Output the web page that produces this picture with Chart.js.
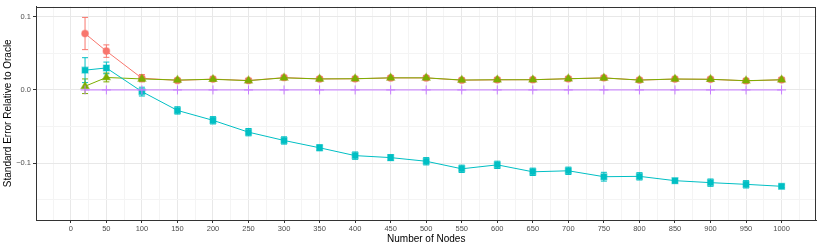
<!DOCTYPE html>
<html><head><meta charset="utf-8">
<script src="https://cdn.jsdelivr.net/npm/chart.js@4.4.1/dist/chart.umd.min.js"></script>
<style>html,body{margin:0;padding:0;background:#fff}canvas{display:block}</style>
</head><body>
<canvas id="c" width="822" height="249"></canvas>
<script>
const nodes = [20,50,100,150,200,250,300,350,400,450,500,550,600,650,700,750,800,850,900,950,1000];

const redVals  = [0.077,0.053,0.016,0.013,0.0148,0.0128,0.0168,0.015,0.0152,0.0164,0.0164,0.0133,0.0138,0.014,0.0152,0.0165,0.0134,0.0148,0.0145,0.0124,0.0138];
const redErr   = [0.022,0.0085,0.005,0.003,0.003,0.003,0.003,0.003,0.003,0.003,0.003,0.003,0.003,0.003,0.003,0.003,0.003,0.003,0.003,0.003,0.003];

const greenVals = [0.005,0.017,0.015,0.0135,0.0145,0.0127,0.0165,0.015,0.0153,0.0165,0.0165,0.0135,0.0139,0.0139,0.0153,0.0163,0.0135,0.0149,0.0145,0.0126,0.0139];
const greenErr  = [0.010,0.006,0.003,0.002,0.002,0.002,0.002,0.002,0.002,0.002,0.002,0.002,0.002,0.002,0.002,0.002,0.002,0.002,0.002,0.002,0.002];

const cyanVals = [0.027,0.030,-0.0023,-0.028,-0.0415,-0.0577,-0.069,-0.079,-0.0897,-0.0924,-0.0974,-0.1077,-0.1023,-0.1118,-0.1104,-0.1185,-0.118,-0.1239,-0.1266,-0.1289,-0.1316];
const cyanErr  = [0.017,0.008,0.006,0.005,0.005,0.005,0.005,0.004,0.005,0.004,0.005,0.005,0.005,0.005,0.005,0.006,0.005,0.003,0.005,0.005,0.002];

const purpleVals = [0,0,0,0,0,0,0,0,0,0,0,0,0,0,0,0,0,0,0,0,0];
const purpleErr  = [0,0,0,0,0,0,0,0,0,0,0,0,0,0,0,0,0,0,0,0,0];

const xTicks = [-25,0,25,50,75,100,125,150,175,200,225,250,275,300,325,350,375,400,425,450,475,500,525,550,575,600,625,650,675,700,725,750,775,800,825,850,875,900,925,950,975,1000,1025];
const xLabelTicks = [0,50,100,150,200,250,300,350,400,450,500,550,600,650,700,750,800,850,900,950,1000];
const yTicks = [-0.15,-0.1,-0.05,0,0.05,0.1];
const yLabelTicks = [-0.1,0,0.1];
const yLabelText = ['\u22120.1','0.0','0.1'];

const xTitle = 'Number of Nodes';
const yTitle = 'Standard Error Relative to Oracle';

function pts(vals){ return nodes.map((n,i)=>({x:n,y:vals[i]})); }

function mkDs(label, vals, errs, color, halo, style, radius){
  return {
    label, data: pts(vals), errs,
    borderColor: color, backgroundColor: color,
    borderWidth: 1, tension: 0,
    pointStyle: style, pointRadius: radius,
    pointBackgroundColor: color,
    pointBorderColor: halo, pointBorderWidth: style==='cross'?1:1.2,
    fill: false
  };
}

const datasets = [
  mkDs('Oracle', purpleVals, purpleErr, '#C77CFF', '#C77CFF', 'cross', 4.5),
  mkDs('C', cyanVals, cyanErr, '#00BFC4', 'rgba(0,191,196,0.5)', 'rect', 4.2),
  mkDs('B', greenVals, greenErr, '#7CAE00', 'rgba(124,174,0,0.6)', 'triangle', 4.4),
  mkDs('A', redVals, redErr, '#F8766D', 'rgba(248,118,109,0.45)', 'circle', 3.4)
];

const errorBars = {
  id: 'errorBars',
  beforeDatasetsDraw(chart){
    const ctx = chart.ctx, ys = chart.scales.y;
    for (let i = chart.data.datasets.length - 1; i >= 0; i--){
      const ds = chart.data.datasets[i];
      const meta = chart.getDatasetMeta(i);
      ctx.save();
      ctx.strokeStyle = ds.borderColor;
      ctx.lineWidth = 1;
      meta.data.forEach((el, j) => {
        const e = ds.errs[j];
        if (!e) return;
        const v = ds.data[j].y;
        const yt = ys.getPixelForValue(v + e), yb = ys.getPixelForValue(v - e);
        const x = el.x;
        ctx.beginPath();
        ctx.moveTo(x, yt); ctx.lineTo(x, yb);
        ctx.moveTo(x - 3, yt); ctx.lineTo(x + 3, yt);
        ctx.moveTo(x - 3, yb); ctx.lineTo(x + 3, yb);
        ctx.stroke();
      });
      ctx.restore();
    }
  }
};

const panelBorder = {
  id: 'panelBorder',
  afterDraw(chart){
    const {ctx, chartArea:a} = chart;
    ctx.save();
    ctx.strokeStyle = '#333';
    ctx.lineWidth = 1;
    ctx.strokeRect(Math.round(a.left)+0.5, Math.round(a.top)+0.5, Math.round(a.right-a.left)-1, Math.round(a.bottom-a.top)-1);
    ctx.restore();
  }
};

const isMajorX = v => xLabelTicks.includes(v);
const yIdx = v => yLabelTicks.findIndex(t => Math.abs(t - v) < 1e-9);

new Chart(document.getElementById('c'), {
  type: 'line',
  data: { datasets },
  plugins: [errorBars, panelBorder],
  options: {
    responsive: false, animation: false, events: [],
    devicePixelRatio: 1,
    layout: { padding: { left: 0, right: 5, top: 4, bottom: 0 } },
    plugins: { legend: { display: false }, tooltip: { enabled: false } },
    scales: {
      x: {
        type: 'linear', min: -49, max: 1049,
        afterBuildTicks: s => { s.ticks = xTicks.map(v => ({ value: v })); },
        afterFit: s => { s.height = 29; },
        ticks: {
          autoSkip: false, maxRotation: 0, padding: 1,
          font: { family: 'Liberation Sans', size: 7.5 }, color: '#4d4d4d',
          callback: v => isMajorX(v) ? String(v) : ''
        },
        grid: {
          color: c => (c.tick && isMajorX(c.tick.value)) ? '#e8e8e8' : '#f4f4f4',
          lineWidth: 1,
          tickColor: c => (c.tick && isMajorX(c.tick.value)) ? '#333' : 'rgba(0,0,0,0)',
          tickLength: 3, drawTicks: true
        },
        border: { display: true, color: '#333', width: 1 },
        title: { display: true, text: xTitle, color: '#000',
          font: { family: 'Liberation Sans', size: 10 }, padding: { top: 0, bottom: 4 } }
      },
      y: {
        type: 'linear', min: -0.1776, max: 0.1139,
        afterBuildTicks: s => { s.ticks = yTicks.map(v => ({ value: v })); },
        afterFit: s => { s.width = 36; },
        ticks: {
          autoSkip: false, padding: 2,
          font: { family: 'Liberation Sans', size: 7.5 }, color: '#4d4d4d',
          callback: v => { const k = yIdx(v); return k >= 0 ? yLabelText[k] : ''; }
        },
        grid: {
          color: c => (c.tick && yIdx(c.tick.value) >= 0) ? '#e8e8e8' : '#f4f4f4',
          lineWidth: 1,
          tickColor: c => (c.tick && yIdx(c.tick.value) >= 0) ? '#333' : 'rgba(0,0,0,0)',
          tickLength: 3, drawTicks: true
        },
        border: { display: true, color: '#333', width: 1 },
        title: { display: true, text: yTitle, color: '#000',
          font: { family: 'Liberation Sans', size: 10 }, padding: { top: 2, bottom: 0 } }
      }
    }
  }
});
</script>
</body></html>
